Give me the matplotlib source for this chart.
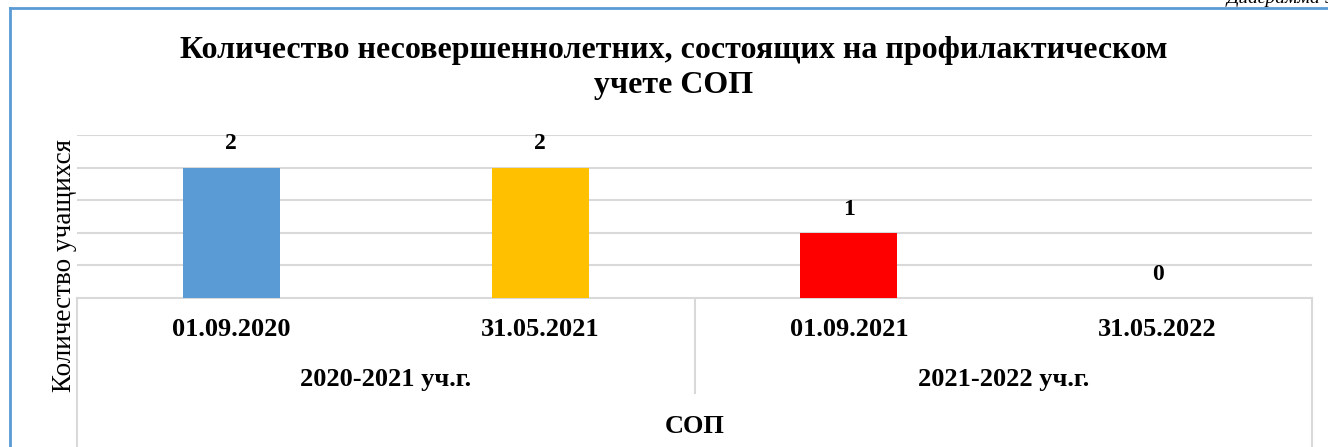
import matplotlib.pyplot as plt
from matplotlib.lines import Line2D

dates = ['01.09.2020', '31.05.2021', '01.09.2021', '31.05.2022']
years = ['2020-2021 уч.г.', '2021-2022 уч.г.']
values = [2, 2, 1, 0]
colors = ['#5B9BD5', '#FFC000', '#FF0000', '#A5A5A5']

plt.rcParams['font.family'] = ['Liberation Serif', 'DejaVu Serif']

fig = plt.figure(figsize=(13.28, 4.47), dpi=100)
ax = fig.add_axes([77 / 1328, 149 / 447, 1235 / 1328, 163 / 447])

x = list(range(len(values)))
bars = ax.bar(x, values, width=0.314, color=colors, zorder=3)
for xi, v in zip(x, values):
    ax.annotate(str(v), (xi, v), xytext=(0, 17), textcoords='offset points',
                ha='center', va='center', fontsize=17, fontweight='bold')

ax.set_xlim(-0.5, 3.5)
ax.set_ylim(0, 2.5)
ax.set_yticks([0.5, 1, 1.5, 2, 2.5])
ax.grid(axis='y', color='#D9D9D9', linewidth=1.5, zorder=0)
ax.tick_params(left=False, bottom=False, labelleft=False, labelbottom=False)
for side in ['left', 'right', 'top']:
    ax.spines[side].set_visible(False)
ax.spines['bottom'].set_color('#D9D9D9')
ax.spines['bottom'].set_linewidth(1.5)

# category table below the axis
tr = ax.get_xaxis_transform()
for xv, ylow in [(-0.5, -0.92), (1.5, -0.583), (3.5, -0.92)]:
    ax.add_line(Line2D([xv, xv], [0, ylow], transform=tr, color='#D9D9D9',
                       linewidth=1.5, clip_on=False))
for xi, d in zip(x, dates):
    ax.text(xi, -0.196, d, transform=tr, ha='center', va='center',
            fontsize=19, fontweight='bold')
for gi, g in enumerate(years):
    ax.text(gi * 2 + 0.5, -0.503, g, transform=tr, ha='center', va='center',
            fontsize=19, fontweight='bold')
ax.text(1.5, -0.791, 'СОП', transform=tr, ha='center', va='center',
        fontsize=19, fontweight='bold')

ax.set_ylabel('Количество учащихся', fontsize=19.5)
ax.yaxis.set_label_coords(0, 0.2)

fig.text(674 / 1328, 1 - 68 / 447,
         'Количество несовершеннолетних, состоящих на профилактическом\nучете СОП',
         ha='center', va='center', fontsize=23, fontweight='bold', linespacing=1.27)

fig.text(1335 / 1328, 1 - 3 / 447, 'Диаграмма 9', ha='right', va='baseline',
         fontsize=14, style='italic')

# blue frame
fig.add_artist(Line2D([10 / 1328, 1], [1 - 8 / 447, 1 - 8 / 447],
                      transform=fig.transFigure, color='#5B9BD5', linewidth=2))
fig.add_artist(Line2D([10 / 1328, 10 / 1328], [0, 1 - 8 / 447],
                      transform=fig.transFigure, color='#5B9BD5', linewidth=2))

fig.savefig('out.png', dpi=100)
